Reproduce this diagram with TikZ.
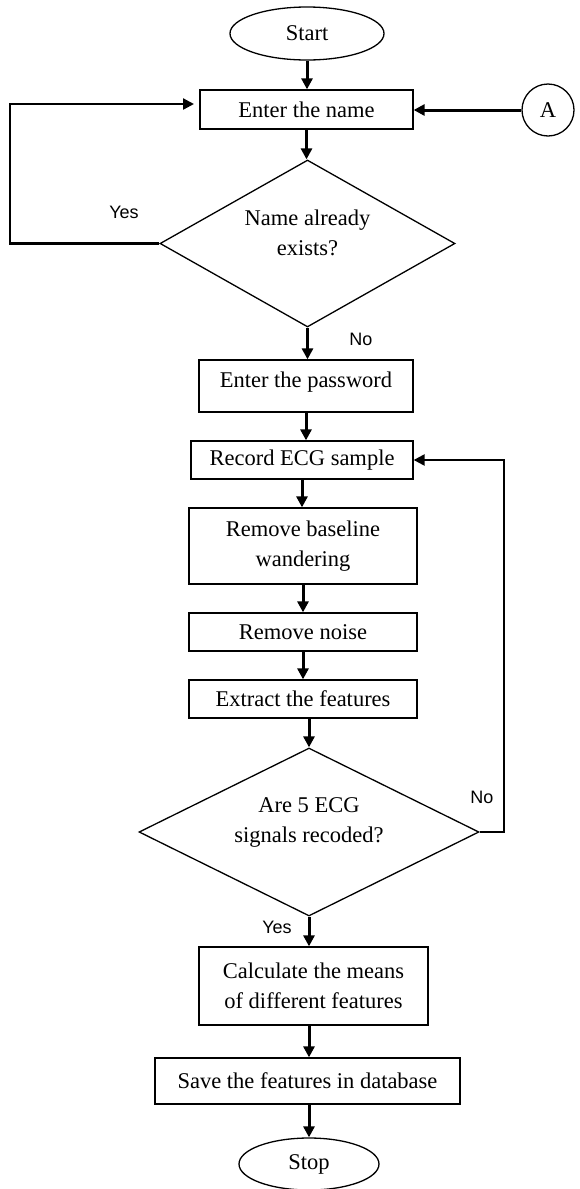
\documentclass[tikz,border=0pt]{standalone}
\usepackage{fontspec}
\setmainfont{Liberation Serif}
\newfontfamily\labelfont{Liberation Sans}
\usetikzlibrary{shapes.geometric,arrows.meta,calc}

\begin{document}
\begin{tikzpicture}[x=1pt,y=-1pt,
  every node/.style={font=\fontsize{22.5}{30}\selectfont},
  box/.style={draw, line width=1.3pt, rectangle, inner sep=0pt, align=center},
  term/.style={draw, line width=1.3pt, ellipse, inner sep=0pt},
  decision/.style={draw, line width=1.3pt, diamond, inner sep=0pt},
  txt/.style={align=center, inner sep=0pt},
  flow/.style={line width=3pt, -{Triangle[length=11pt,width=11pt]}},
  back/.style={line width=2.3pt, -{Triangle[length=11pt,width=11pt]}},
  tag/.style={font=\labelfont\fontsize{18}{20}\selectfont, inner sep=0pt}
]
\useasboundingbox (0,0) rectangle (579,1189);

% terminals, steps and decisions
\node[term, minimum width=154pt, minimum height=53pt] (start) at (307,33.5) {Start};
\node[box, minimum width=213pt, minimum height=39pt] (name) at (306.5,109.5) {Enter the name};
\node[draw, line width=1.3pt, circle, minimum size=52pt, inner sep=0pt] (A) at (548,110) {A};
\node[decision, minimum width=295pt, minimum height=167pt] (d1) at (307.5,243.5) {};
\node[txt] (d1t) at (307.5,233) {Name already\\exists?};
\node[box, minimum width=214pt, minimum height=52pt] (pass) at (306,386) {};
\node[txt] (passt) at (306,382) {Enter the password};
\node[box, minimum width=222pt, minimum height=38pt] (rec) at (302,460) {Record ECG sample};
\node[box, minimum width=228pt, minimum height=76pt] (base) at (303,546) {Remove baseline\\wandering};
\node[box, minimum width=228pt, minimum height=38pt] (noise) at (303,632) {Remove noise};
\node[box, minimum width=228pt, minimum height=38pt] (ext) at (303,699) {Extract the features};
\node[decision, minimum width=340pt, minimum height=168pt] (d2) at (309,832) {};
\node[txt] (d2t) at (309,822) {Are 5 ECG\\signals recoded?};
\node[box, minimum width=229pt, minimum height=78pt] (calc) at (313.5,986) {Calculate the means\\of different features};
\node[box, minimum width=305pt, minimum height=46pt] (save) at (307.5,1081) {Save the features in database};
\node[term, minimum width=140pt, minimum height=52pt] (stop) at (309,1164) {Stop};

% branch labels
\node[tag] (yes1) at (124,212) {Yes};
\node[tag] (no1) at (361,339) {No};
\node[tag] (no2) at (482,797) {No};
\node[tag] (yes2) at (277,927) {Yes};

% main flow
\draw[flow] (start.south) -- (start.south |- name.north);
\draw[flow] (name.south) -- (name.south |- d1.north);
\draw[flow] (d1.south) -- (d1.south |- pass.north);
\draw[flow] (pass.south) -- (pass.south |- rec.north);
\draw[flow] (rec.south) -- (rec.south |- base.north);
\draw[flow] (base.south) -- (base.south |- noise.north);
\draw[flow] (noise.south) -- (noise.south |- ext.north);
\draw[flow] (ext.south -| d2.north) -- (d2.north);
\draw[flow] (d2.south) -- (d2.south |- calc.north);
\draw[flow] (calc.south -| d2.south) -- (d2.south |- save.north);
\draw[flow] (save.south -| stop.north) -- (stop.north);

% connector A and the two loops
\draw[flow] (A.west) -- (name.east |- A.west);
\coordinate (yesturn) at (10,243.5);
\coordinate (yesend) at (194,104);
\draw[back] (d1.west) -- (yesturn) |- (yesend);
\coordinate (noturn) at (504,832);
\draw[back] (d2.east) -- (noturn) |- (rec.east);
\end{tikzpicture}
\end{document}
